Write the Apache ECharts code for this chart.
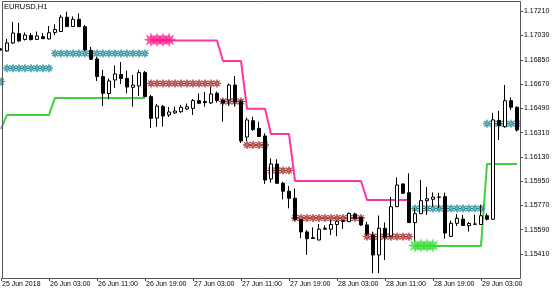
<!DOCTYPE html>
<html><head><meta charset="utf-8">
<script src="https://cdn.jsdelivr.net/npm/echarts@6/dist/echarts.min.js"></script>
<style>html,body{margin:0;padding:0;background:#fff}#c{width:560px;height:294px}</style>
</head><body><div id="c"></div>
<script>
const _ = null;
const title = "EURUSD,H1";
const categories = [
"25 Jun 19:00","25 Jun 20:00","25 Jun 21:00","25 Jun 22:00","25 Jun 23:00",
"26 Jun 00:00","26 Jun 01:00","26 Jun 02:00","26 Jun 03:00","26 Jun 04:00","26 Jun 05:00","26 Jun 06:00","26 Jun 07:00",
"26 Jun 08:00","26 Jun 09:00","26 Jun 10:00","26 Jun 11:00","26 Jun 12:00","26 Jun 13:00","26 Jun 14:00","26 Jun 15:00",
"26 Jun 16:00","26 Jun 17:00","26 Jun 18:00","26 Jun 19:00","26 Jun 20:00","26 Jun 21:00","26 Jun 22:00","26 Jun 23:00",
"27 Jun 00:00","27 Jun 01:00","27 Jun 02:00","27 Jun 03:00","27 Jun 04:00","27 Jun 05:00","27 Jun 06:00","27 Jun 07:00",
"27 Jun 08:00","27 Jun 09:00","27 Jun 10:00","27 Jun 11:00","27 Jun 12:00","27 Jun 13:00","27 Jun 14:00","27 Jun 15:00",
"27 Jun 16:00","27 Jun 17:00","27 Jun 18:00","27 Jun 19:00","27 Jun 20:00","27 Jun 21:00","27 Jun 22:00","27 Jun 23:00",
"28 Jun 00:00","28 Jun 01:00","28 Jun 02:00","28 Jun 03:00","28 Jun 04:00","28 Jun 05:00","28 Jun 06:00","28 Jun 07:00",
"28 Jun 08:00","28 Jun 09:00","28 Jun 10:00","28 Jun 11:00","28 Jun 12:00","28 Jun 13:00","28 Jun 14:00","28 Jun 15:00",
"28 Jun 16:00","28 Jun 17:00","28 Jun 18:00","28 Jun 19:00","28 Jun 20:00","28 Jun 21:00","28 Jun 22:00","28 Jun 23:00",
"29 Jun 00:00","29 Jun 01:00","29 Jun 02:00","29 Jun 03:00","29 Jun 04:00","29 Jun 05:00","29 Jun 06:00","29 Jun 07:00",
"29 Jun 08:00","29 Jun 09:00"
];
const xTickIndex = [0, 8, 16, 24, 32, 40, 48, 56, 64, 72, 80];
const xTickLabels = ["25 Jun 2018","26 Jun 03:00","26 Jun 11:00","26 Jun 19:00","27 Jun 03:00","27 Jun 11:00",
  "27 Jun 19:00","28 Jun 03:00","28 Jun 11:00","28 Jun 19:00","29 Jun 03:00"];
const yTicks = [1.15410, 1.15590, 1.15770, 1.15950, 1.16130, 1.16310, 1.16490, 1.16670, 1.16850, 1.17030, 1.17210];

const openP = [
1.16930,1.16916,1.16975,1.17045,1.17001,1.17031,1.17001,1.17022,1.17005,1.17053,
1.17060,1.17166,1.17097,1.17151,1.17096,1.16919,1.16856,1.16726,1.16600,1.16700,
1.16741,1.16712,1.16646,1.16656,1.16755,1.16577,1.16418,1.16504,1.16441,1.16456,
1.16465,1.16485,1.16490,1.16547,1.16541,1.16530,1.16602,1.16548,1.16552,1.16663,
1.16539,1.16277,1.16398,1.16341,1.16285,1.15966,1.16077,1.15934,1.15875,1.15823,
1.15665,1.15573,1.15530,1.15513,1.15600,1.15593,1.15628,1.15656,1.15649,1.15706,
1.15680,1.15625,1.15550,1.15402,1.15600,1.15543,1.15760,1.15929,1.15864,1.15642,
1.15708,1.15805,1.15815,1.15832,1.15835,1.15540,1.15637,1.15668,1.15619,1.15632,
1.15628,1.15693,1.15667,1.16400,1.16354,1.16547,1.16498];
const closeP = [
1.16923,1.16975,1.17049,1.16990,1.17034,1.17001,1.17027,1.17007,1.17051,1.17075,
1.17166,1.17097,1.17151,1.17096,1.16923,1.16854,1.16726,1.16602,1.16693,1.16745,
1.16712,1.16648,1.16663,1.16755,1.16577,1.16416,1.16507,1.16433,1.16463,1.16470,
1.16498,1.16502,1.16547,1.16528,1.16533,1.16597,1.16548,1.16530,1.16663,1.16539,
1.16248,1.16404,1.16333,1.16281,1.15958,1.16077,1.15934,1.15875,1.15823,1.15665,
1.15573,1.15522,1.15524,1.15593,1.15593,1.15628,1.15652,1.15650,1.15710,1.15674,
1.15625,1.15558,1.15402,1.15600,1.15535,1.15760,1.15921,1.15860,1.15642,1.15708,
1.15805,1.15819,1.15832,1.15830,1.15565,1.15637,1.15674,1.15621,1.15636,1.15630,
1.15693,1.15667,1.16404,1.16363,1.16547,1.16498,1.16329];
const lowP = [
1.16919,1.16908,1.16968,1.16982,1.16993,1.16993,1.16997,1.17005,1.17001,1.17034,
1.17057,1.17094,1.17094,1.17094,1.16916,1.16849,1.16693,1.16507,1.16556,1.16641,
1.16671,1.16602,1.16502,1.16582,1.16574,1.16344,1.16352,1.16355,1.16426,1.16448,
1.16456,1.16478,1.16441,1.16522,1.16502,1.16522,1.16532,1.16391,1.16507,1.16502,
1.16233,1.16248,1.16322,1.16277,1.15929,1.15938,1.15929,1.15814,1.15748,1.15656,
1.15526,1.15402,1.15521,1.15510,1.15589,1.15550,1.15541,1.15595,1.15647,1.15669,
1.15617,1.15543,1.15266,1.15268,1.15365,1.15535,1.15758,1.15855,1.15639,1.15498,
1.15706,1.15699,1.15760,1.15748,1.15524,1.15535,1.15617,1.15617,1.15575,1.15626,
1.15625,1.15658,1.15662,1.16255,1.16348,1.16478,1.16317];
const highP = [
1.16938,1.17005,1.17131,1.17123,1.17053,1.17049,1.17060,1.17049,1.17101,1.17114,
1.17183,1.17207,1.17172,1.17194,1.17109,1.16945,1.16871,1.16775,1.16712,1.16808,
1.16834,1.16769,1.16738,1.16775,1.16767,1.16589,1.16522,1.16515,1.16500,1.16502,
1.16515,1.16526,1.16559,1.16600,1.16611,1.16648,1.16614,1.16556,1.16674,1.16730,
1.16552,1.16422,1.16428,1.16391,1.16305,1.16119,1.16112,1.15944,1.15914,1.15895,
1.15669,1.15587,1.15607,1.15632,1.15621,1.15662,1.15656,1.15662,1.15717,1.15716,
1.15684,1.15647,1.15575,1.15695,1.15643,1.15832,1.15977,1.15933,1.16008,1.15748,
1.15958,1.15906,1.15866,1.15864,1.15864,1.15656,1.15706,1.15699,1.15647,1.15702,
1.15773,1.15710,1.16456,1.16470,1.16663,1.16572,1.16504];

const lowerBand = [
1.16337,1.16441,1.16441,1.16441,1.16441,1.16441,1.16441,1.16441,1.16441,1.16567,
1.16567,1.16567,1.16567,1.16567,1.16567,1.16567,1.16567,1.16567,1.16567,1.16567,
1.16567,1.16567,1.16567,1.16567,1.16567,_,_,_,_,_,
_,_,_,_,_,_,_,_,_,_,
_,_,_,_,_,_,_,_,_,_,
_,_,_,_,_,_,_,_,_,_,
_,_,_,_,_,_,_,_,_,1.15469,
1.15469,1.15469,1.15469,1.15469,1.15469,1.15469,1.15469,1.15469,1.15469,1.15469,
1.15469,1.16077,1.16077,1.16077,1.16077,1.16077,1.16077];
const upperBand = [
_,_,_,_,_,_,_,_,_,_,
_,_,_,_,_,_,_,_,_,_,
_,_,_,_,_,1.16993,1.16993,1.16993,1.16993,1.16993,
1.16993,1.16993,1.16993,1.16993,1.16993,1.16993,1.16993,1.16841,1.16841,1.16841,
1.16841,1.16487,1.16487,1.16487,1.16487,1.16300,1.16300,1.16300,1.16300,1.15951,
1.15951,1.15951,1.15951,1.15951,1.15951,1.15951,1.15951,1.15951,1.15951,1.15951,
1.15951,1.15810,1.15810,1.15810,1.15810,1.15810,1.15810,1.15810,1.15810,_,
_,_,_,_,_,_,_,_,_,_,
_,_,_,_,_,_,_];
const tealStars = [
1.16688,1.16787,1.16787,1.16787,1.16787,1.16787,1.16787,1.16787,1.16787,1.16897,
1.16897,1.16897,1.16897,1.16897,1.16897,1.16897,1.16897,1.16897,1.16897,1.16897,
1.16897,1.16897,1.16897,1.16897,1.16897,_,_,_,_,_,
_,_,_,_,_,_,_,_,_,_,
_,_,_,_,_,_,_,_,_,_,
_,_,_,_,_,_,_,_,_,_,
_,_,_,_,_,_,_,_,_,1.15747,
1.15747,1.15747,1.15747,1.15747,1.15747,1.15747,1.15747,1.15747,1.15747,1.15747,
1.15747,1.16376,1.16376,1.16376,1.16376,1.16376,1.16376];
const redStars = [
_,_,_,_,_,_,_,_,_,_,
_,_,_,_,_,_,_,_,_,_,
_,_,_,_,_,1.16674,1.16674,1.16674,1.16674,1.16674,
1.16674,1.16674,1.16674,1.16674,1.16674,1.16674,1.16674,1.16541,1.16541,1.16541,
1.16541,1.16218,1.16218,1.16218,1.16218,1.16029,1.16029,1.16029,1.16029,1.15676,
1.15676,1.15676,1.15676,1.15676,1.15676,1.15676,1.15676,1.15676,1.15676,1.15676,
1.15676,1.15538,1.15538,1.15538,1.15538,1.15538,1.15538,1.15538,1.15538,_,
_,_,_,_,_,_,_,_,_,_,
_,_,_,_,_,_,_];
const upperSignal = [
_,_,_,_,_,_,_,_,_,_,
_,_,_,_,_,_,_,_,_,_,
_,_,_,_,_,1.16998,1.16998,1.16998,1.16998,_,
_,_,_,_,_,_,_,_,_,_,
_,_,_,_,_,_,_,_,_,_,
_,_,_,_,_,_,_,_,_,_,
_,_,_,_,_,_,_,_,_,_,
_,_,_,_,_,_,_,_,_,_,
_,_,_,_,_,_,_];
const lowerSignal = [
_,_,_,_,_,_,_,_,_,_,
_,_,_,_,_,_,_,_,_,_,
_,_,_,_,_,_,_,_,_,_,
_,_,_,_,_,_,_,_,_,_,
_,_,_,_,_,_,_,_,_,_,
_,_,_,_,_,_,_,_,_,_,
_,_,_,_,_,_,_,_,_,1.15472,
1.15472,1.15472,1.15472,_,_,_,_,_,_,_,
_,_,_,_,_,_,_];

function starPath(n, inner) {
  let d = '';
  for (let k = 0; k < 2 * n; k++) {
    const r = k % 2 === 0 ? 1 : inner;
    const a = Math.PI * k / n - Math.PI / 2;
    d += (k === 0 ? 'M' : 'L') + (r * Math.cos(a)).toFixed(3) + ' ' + (r * Math.sin(a)).toFixed(3) + ' ';
  }
  return 'path://' + d + 'Z';
}
const smallStar = starPath(8, 0.35);
const bigStar = starPath(8, 0.45);
const FONT = 'Liberation Sans';
const isTick = (i) => xTickIndex.indexOf(i) >= 0;

const chart = echarts.init(document.getElementById('c'), null, {renderer: 'canvas'});
chart.setOption({
  animation: false,
  backgroundColor: '#fff',
  grid: {left: -2, width: 522, top: 2, height: 276, containLabel: false, outerBoundsMode: 'none'},
  graphic: [
    {type: 'rect', z: 100, silent: true, shape: {x: 2.5, y: 1.5, width: 518, height: 277},
     style: {fill: 'none', stroke: '#555', lineWidth: 1}},
    {type: 'text', left: 4, top: 3, z: 100, style: {text: title, font: '7.5px "' + FONT + '"', fill: '#000'}}
  ],
  xAxis: {
    type: 'category', data: categories, boundaryGap: true,
    axisLine: {show: false},
    axisTick: {show: true, alignWithLabel: true, interval: (i) => isTick(i), length: 3, lineStyle: {color: '#444'}},
    axisLabel: {interval: (i) => isTick(i), formatter: (v, i) => xTickLabels[xTickIndex.indexOf(i)],
      align: 'left', fontSize: 7, fontFamily: FONT, color: '#000', margin: 3, padding: [0, 0, 0, 1]},
    splitLine: {show: false}
  },
  yAxis: {
    type: 'value', position: 'right', min: 1.15231, max: 1.17279, scale: true,
    axisLine: {show: false}, splitLine: {show: false},
    axisTick: {show: true, customValues: yTicks, length: 3, lineStyle: {color: '#444'}},
    axisLabel: {customValues: yTicks, formatter: (v) => v.toFixed(5), fontSize: 7, fontFamily: FONT, color: '#000', margin: 4}
  },
  series: [
    {type: 'line', data: upperBand, symbol: 'none', connectNulls: false, z: 2,
     lineStyle: {color: '#ff33a8', width: 2}},
    {type: 'line', data: lowerBand, symbol: 'none', connectNulls: false, z: 2,
     lineStyle: {color: '#3fcf3f', width: 2}},
    {type: 'scatter', data: tealStars, symbol: smallStar, symbolSize: 8, z: 3,
     itemStyle: {color: '#36b4c2', borderColor: '#08707c', borderWidth: 0.7}},
    {type: 'scatter', data: redStars, symbol: smallStar, symbolSize: 8, z: 3,
     itemStyle: {color: '#d24a46', borderColor: '#8e0c0c', borderWidth: 0.7}},
    {type: 'candlestick', z: 4, barWidth: 3, large: false,
     data: openP.map((o, i) => [o, closeP[i], lowP[i], highP[i]]),
     itemStyle: {color: '#fff', color0: '#000', borderColor: '#000', borderColor0: '#000', borderWidth: 1}},
    {type: 'scatter', data: upperSignal, symbol: bigStar, symbolSize: 15, z: 5,
     itemStyle: {color: '#ff1a8c'}},
    {type: 'scatter', data: lowerSignal, symbol: bigStar, symbolSize: 15, z: 5,
     itemStyle: {color: '#33dd33'}}
  ]
});
</script>
</body></html>
